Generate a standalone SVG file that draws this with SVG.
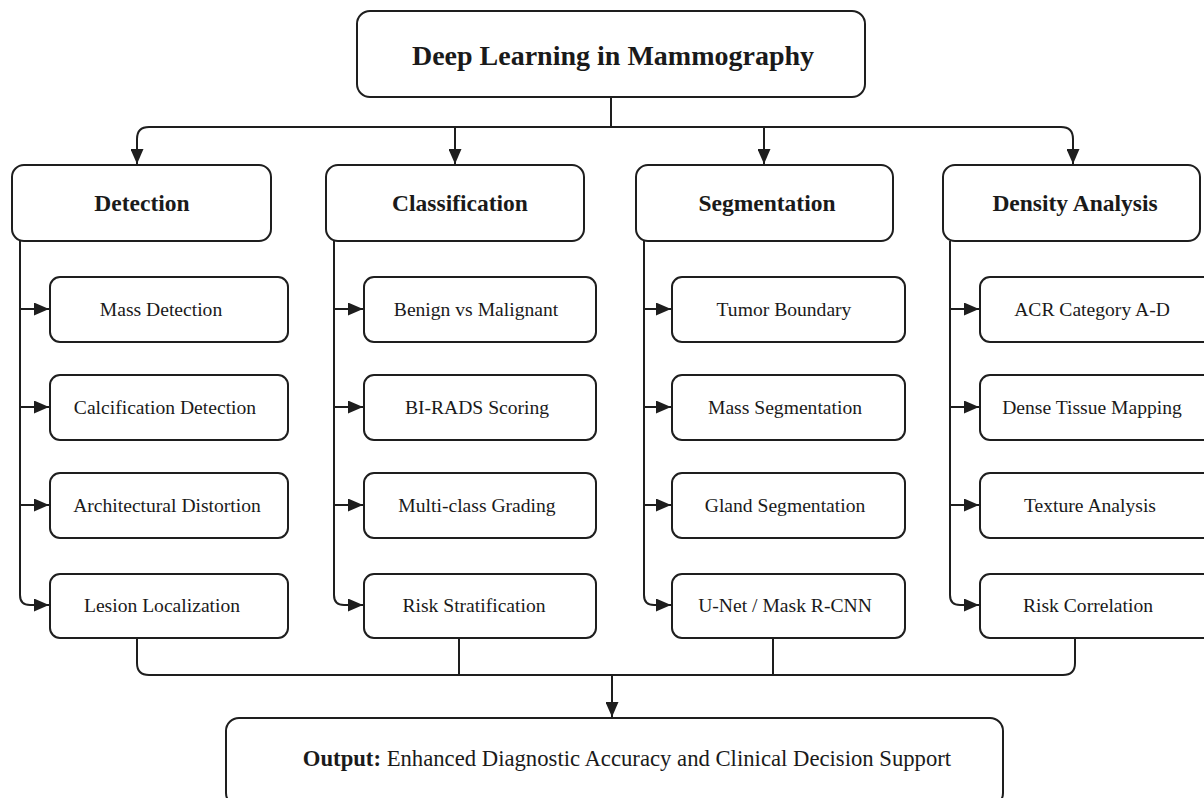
<svg xmlns="http://www.w3.org/2000/svg" width="1204" height="798" viewBox="0 0 1204 798">
<style>
.box{fill:#fff;stroke:#1e1e1e;stroke-width:2}
.ln{fill:none;stroke:#1e1e1e;stroke-width:2}
.t{font-family:"Liberation Serif","Times New Roman",serif;fill:#1a1a1a;text-anchor:middle;dominant-baseline:central}
.title{font-size:28px;font-weight:bold}
.cat{font-size:23.5px;font-weight:bold}
.sub{font-size:19.6px}
.out{font-size:22.7px}
</style>
<defs>
<marker id="ah" markerUnits="userSpaceOnUse" markerWidth="15" markerHeight="13" viewBox="0 0 15 13" refX="15" refY="6.5" orient="auto">
<path d="M0,0 L15,6.5 L0,13 Z" fill="#1e1e1e"/>
</marker>
</defs>
<rect width="1204" height="798" fill="#fff"/>

<g id="connectors">
<path class="ln" d="M611,97 V127"/>
<path class="ln" d="M149,127 H1061"/>
<path class="ln" d="M149,127 Q137,127 137,139 V164" marker-end="url(#ah)"/>
<path class="ln" d="M455,127 V164" marker-end="url(#ah)"/>
<path class="ln" d="M764,127 V164" marker-end="url(#ah)"/>
<path class="ln" d="M1061,127 Q1073,127 1073,139 V164" marker-end="url(#ah)"/>

<path class="ln" d="M20,241 V595 Q20,605 30,605 H49" marker-end="url(#ah)"/>
<path class="ln" d="M20,309 H49" marker-end="url(#ah)"/>
<path class="ln" d="M20,407 H49" marker-end="url(#ah)"/>
<path class="ln" d="M20,505 H49" marker-end="url(#ah)"/>

<path class="ln" d="M334,241 V595 Q334,605 344,605 H363" marker-end="url(#ah)"/>
<path class="ln" d="M334,309 H363" marker-end="url(#ah)"/>
<path class="ln" d="M334,407 H363" marker-end="url(#ah)"/>
<path class="ln" d="M334,505 H363" marker-end="url(#ah)"/>

<path class="ln" d="M644,241 V595 Q644,605 654,605 H671" marker-end="url(#ah)"/>
<path class="ln" d="M644,309 H671" marker-end="url(#ah)"/>
<path class="ln" d="M644,407 H671" marker-end="url(#ah)"/>
<path class="ln" d="M644,505 H671" marker-end="url(#ah)"/>

<path class="ln" d="M950,241 V595 Q950,605 960,605 H979" marker-end="url(#ah)"/>
<path class="ln" d="M950,309 H979" marker-end="url(#ah)"/>
<path class="ln" d="M950,407 H979" marker-end="url(#ah)"/>
<path class="ln" d="M950,505 H979" marker-end="url(#ah)"/>

<path class="ln" d="M137,638 V663 Q137,675 149,675 H1063 Q1075,675 1075,663 V638"/>
<path class="ln" d="M459,638 V675"/>
<path class="ln" d="M773,638 V675"/>
<path class="ln" d="M612,675 V717" marker-end="url(#ah)"/>
</g>

<g id="root"><rect class="box" x="357" y="11" width="508" height="86" rx="13"/><text class="t title" x="613" y="55">Deep Learning in Mammography</text></g>

<g id="detection"><rect class="box" x="12" y="165" width="259" height="76" rx="12"/><text class="t cat" x="142" y="203">Detection</text></g>
<g id="classification"><rect class="box" x="326" y="165" width="258" height="76" rx="12"/><text class="t cat" x="460" y="203">Classification</text></g>
<g id="segmentation"><rect class="box" x="636" y="165" width="257" height="76" rx="12"/><text class="t cat" x="767" y="203">Segmentation</text></g>
<g id="density"><rect class="box" x="943" y="165" width="257" height="76" rx="12"/><text class="t cat" x="1075" y="203">Density Analysis</text></g>

<g id="mass-detection"><rect class="box" x="50" y="277" width="238" height="65" rx="10"/><text class="t sub" x="161" y="309">Mass Detection</text></g>
<g id="calcification-detection"><rect class="box" x="50" y="375" width="238" height="65" rx="10"/><text class="t sub" x="165" y="407">Calcification Detection</text></g>
<g id="architectural-distortion"><rect class="box" x="50" y="473" width="238" height="65" rx="10"/><text class="t sub" x="167" y="505">Architectural Distortion</text></g>
<g id="lesion-localization"><rect class="box" x="50" y="574" width="238" height="64" rx="10"/><text class="t sub" x="162" y="605">Lesion Localization</text></g>

<g id="benign-malignant"><rect class="box" x="364" y="277" width="232" height="65" rx="10"/><text class="t sub" x="476" y="309">Benign vs Malignant</text></g>
<g id="birads"><rect class="box" x="364" y="375" width="232" height="65" rx="10"/><text class="t sub" x="477" y="407">BI-RADS Scoring</text></g>
<g id="multiclass"><rect class="box" x="364" y="473" width="232" height="65" rx="10"/><text class="t sub" x="477" y="505">Multi-class Grading</text></g>
<g id="risk-strat"><rect class="box" x="364" y="574" width="232" height="64" rx="10"/><text class="t sub" x="474" y="605">Risk Stratification</text></g>

<g id="tumor-boundary"><rect class="box" x="672" y="277" width="233" height="65" rx="10"/><text class="t sub" x="784" y="309">Tumor Boundary</text></g>
<g id="mass-seg"><rect class="box" x="672" y="375" width="233" height="65" rx="10"/><text class="t sub" x="785" y="407">Mass Segmentation</text></g>
<g id="gland-seg"><rect class="box" x="672" y="473" width="233" height="65" rx="10"/><text class="t sub" x="785" y="505">Gland Segmentation</text></g>
<g id="unet"><rect class="box" x="672" y="574" width="233" height="64" rx="10"/><text class="t sub" x="785" y="605">U-Net / Mask R-CNN</text></g>

<g id="acr"><rect class="box" x="980" y="277" width="240" height="65" rx="10"/><text class="t sub" x="1092" y="309">ACR Category A-D</text></g>
<g id="dense-tissue"><rect class="box" x="980" y="375" width="240" height="65" rx="10"/><text class="t sub" x="1092" y="407">Dense Tissue Mapping</text></g>
<g id="texture"><rect class="box" x="980" y="473" width="240" height="65" rx="10"/><text class="t sub" x="1090" y="505">Texture Analysis</text></g>
<g id="risk-corr"><rect class="box" x="980" y="574" width="240" height="64" rx="10"/><text class="t sub" x="1088" y="605">Risk Correlation</text></g>

<g id="output"><rect class="box" x="226" y="718" width="777" height="88" rx="13"/><text class="t out" x="627" y="758"><tspan font-weight="bold">Output:</tspan> Enhanced Diagnostic Accuracy and Clinical Decision Support</text></g>
</svg>
